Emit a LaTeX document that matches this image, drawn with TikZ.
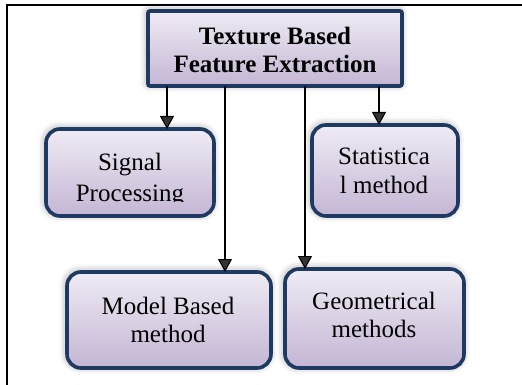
\documentclass[tikz,border=0pt]{standalone}
\usepackage{fontspec}
\setmainfont{Liberation Serif}
\usetikzlibrary{arrows.meta,shadows.blur}
\definecolor{boxedge}{HTML}{1E3A62}
\definecolor{boxtop}{HTML}{EFEBF4}
\definecolor{boxbot}{HTML}{C4B6D4}
\tikzset{
  x=1pt, y=-1pt,
  panel/.style={draw=boxedge, line width=3.6pt, top color=boxtop, bottom color=boxbot,
    blur shadow={shadow xshift=-1pt, shadow yshift=1pt, shadow blur radius=7pt, shadow opacity=40}},
  headbox/.style={panel, rounded corners=2pt},
  methodbox/.style={panel, rounded corners=14pt},
  label/.style={align=center, font=\fontsize{25}{28.5}\selectfont, inner sep=0pt},
  link/.style={line width=1.1pt, -{Triangle[length=13pt,width=14pt]}},
}
\begin{document}
\begin{tikzpicture}
\useasboundingbox (0,0) rectangle (522,385);
% frame
\draw[line width=1.8pt] (522,5) -- (7,5) -- (7,386);

% boxes
\draw[headbox] (148,11) rectangle (402,86);
\node[label, font=\fontsize{25}{28.5}\selectfont\bfseries] (head) at (275,50) {Texture Based\\Feature Extraction};
\coordinate (h1) at (167,86);
\coordinate (h2) at (225,86);
\coordinate (h3) at (305,86);
\coordinate (h4) at (379,86);

\draw[methodbox] (46,129) rectangle (214,216);
\begin{scope}
\clip (46,129) rectangle (214,201);
\node[label, font=\fontsize{25}{31}\selectfont] (sig) at (130,180) {Signal\\Processing};
\end{scope}
\coordinate (sigtop) at (167,129);

\draw[methodbox] (312,125) rectangle (458,216);
\node[label] (stat) at (384,171) {Statistica\\l method};
\coordinate (stattop) at (379,125);

\draw[methodbox] (67,272) rectangle (271,368);
\node[label] (model) at (168,320) {Model Based\\method};
\coordinate (modeltop) at (225,272);

\draw[methodbox] (285,269) rectangle (464,368);
\node[label] (geo) at (374,315) {Geometrical\\methods};
\coordinate (geotop) at (305,269);

% connectors
\draw[link] (h1) -- (sigtop);
\draw[link] (h4) -- (stattop);
\draw[link] (h2) -- (modeltop);
\draw[link] (h3) -- (geotop);
\end{tikzpicture}
\end{document}
